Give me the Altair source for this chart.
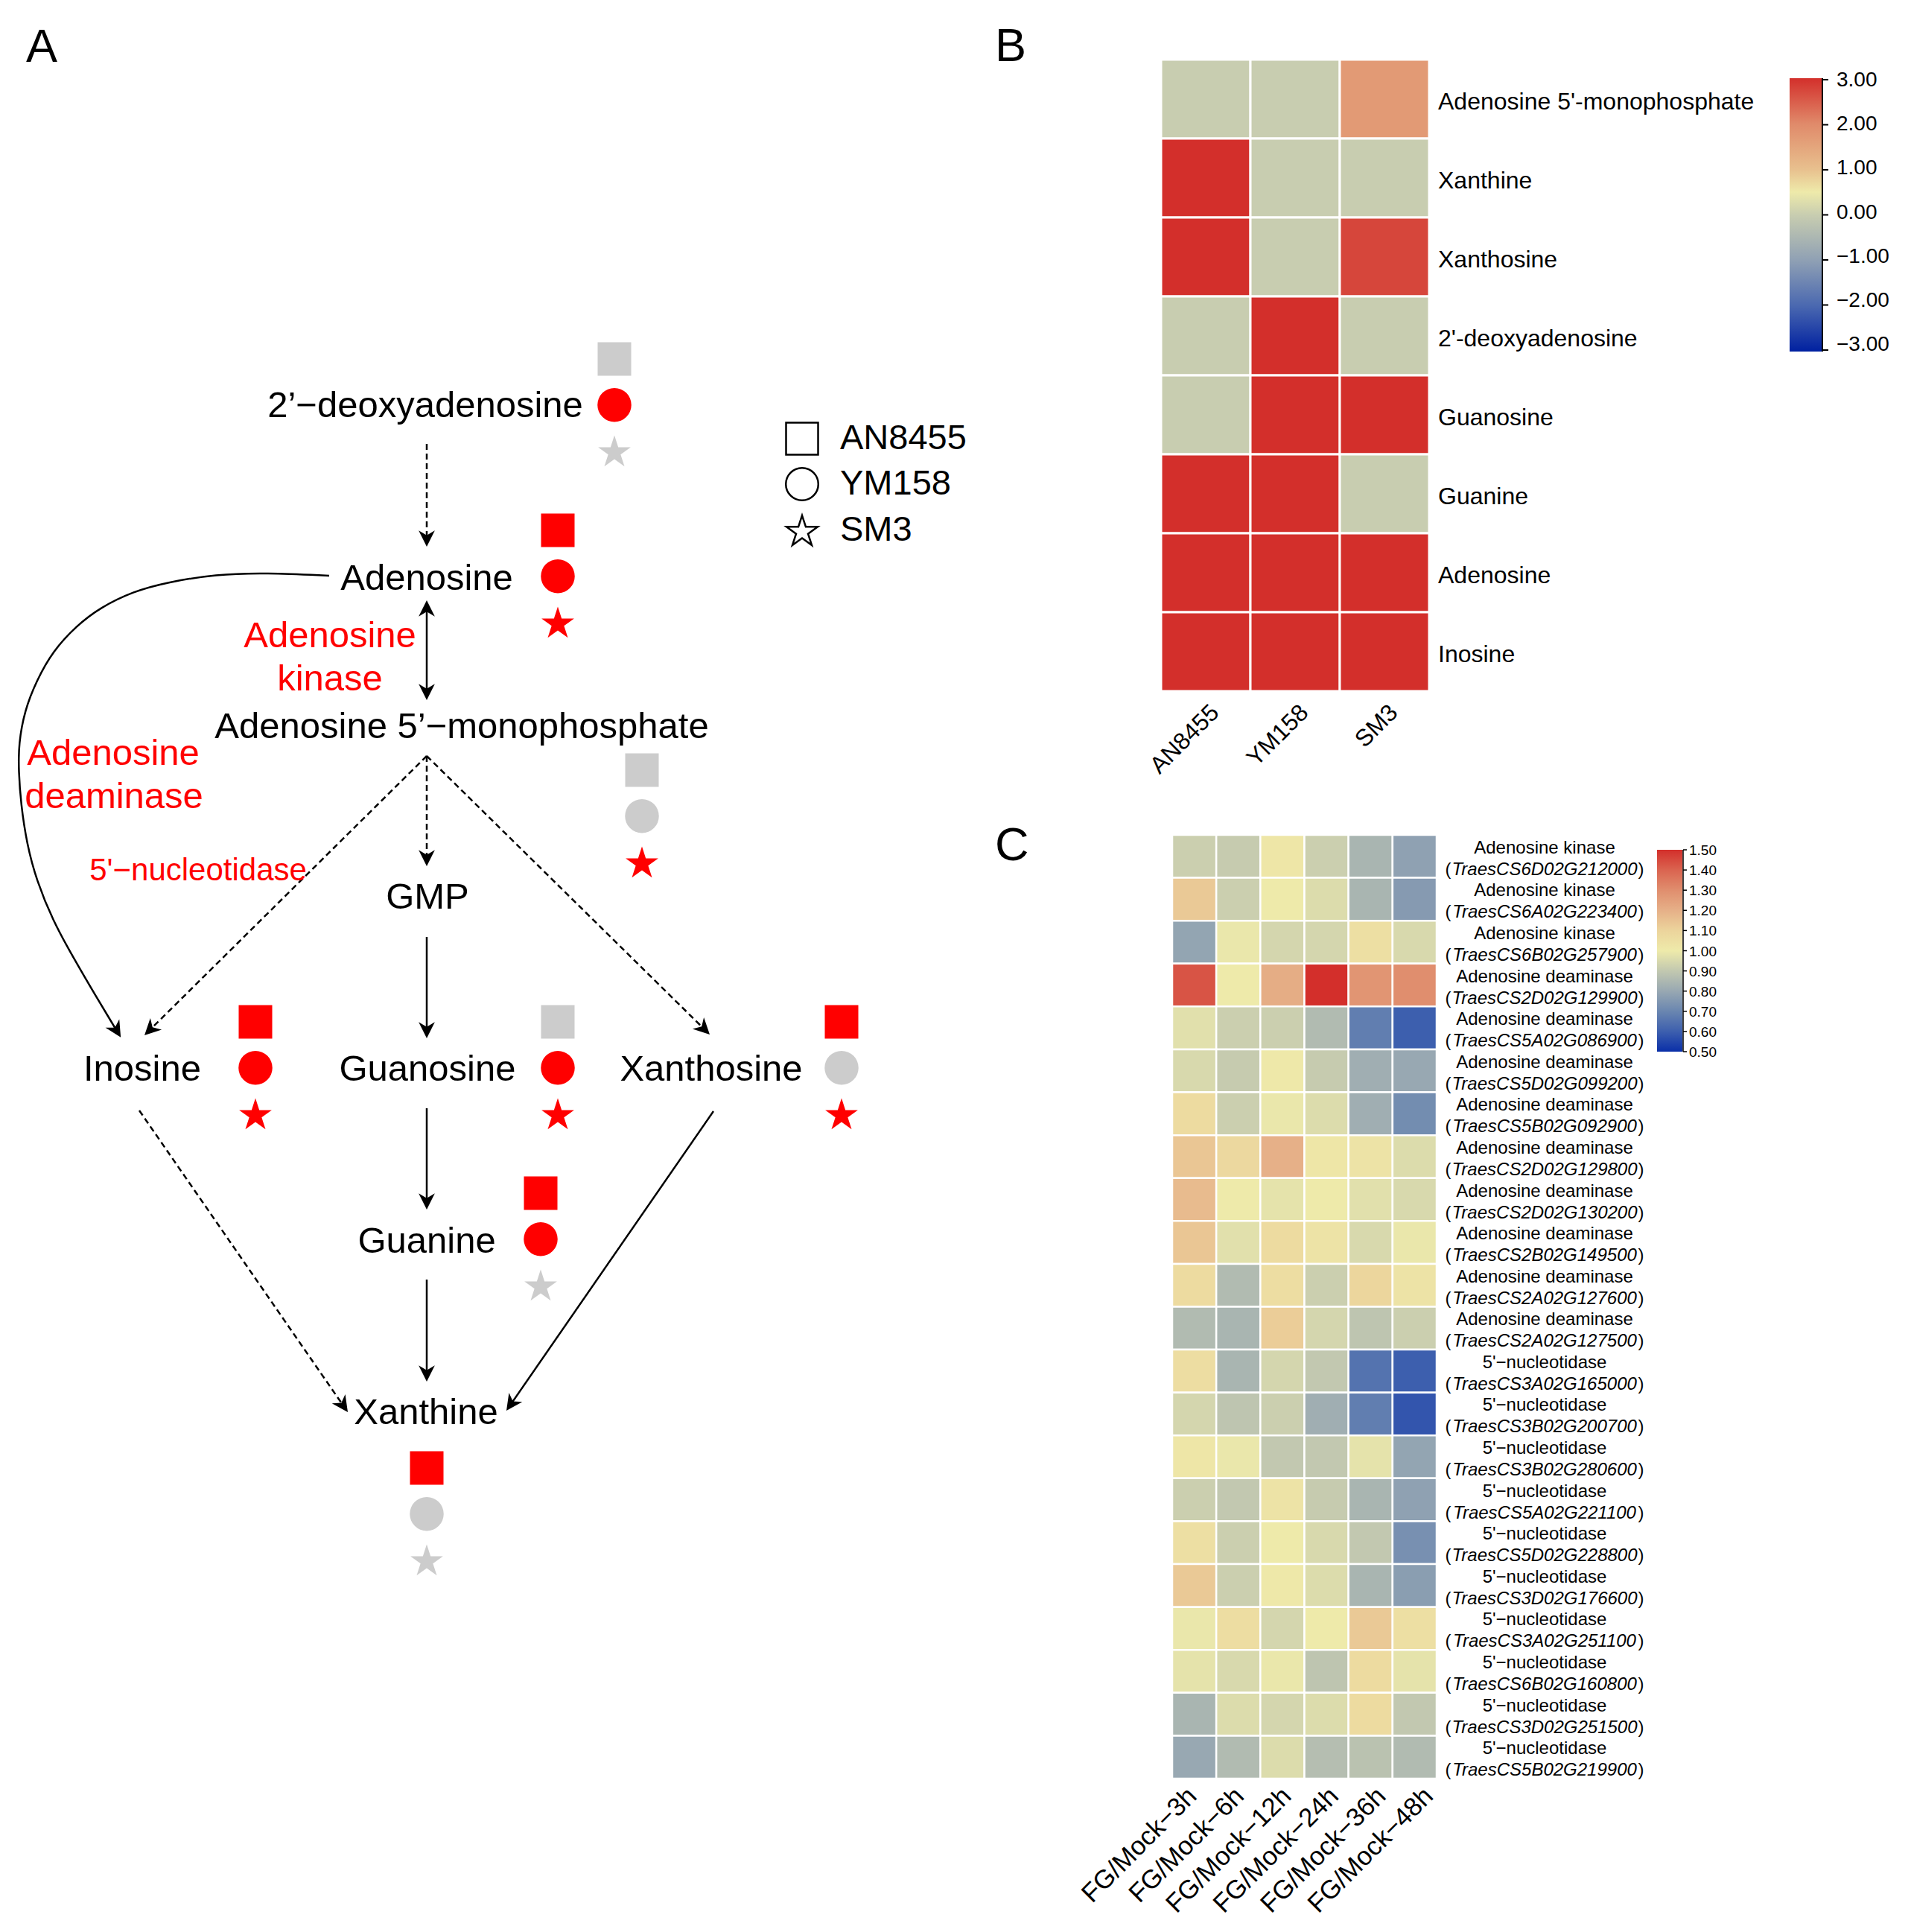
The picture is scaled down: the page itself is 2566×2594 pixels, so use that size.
import math
import altair as alt
import pandas as pd

FONT = "Liberation Sans"
W, H = 2550, 2572
M = 8  # page margin

# ---------------- Panel A : pathway diagram ----------------
node_names = ["2’−deoxyadenosine", "Adenosine", "Adenosine 5’−monophosphate", "GMP",
              "Inosine", "Guanosine", "Xanthosine", "Guanine", "Xanthine"]
node_x = [571, 573, 620, 574, 191, 574, 955, 573, 572]
node_y = [545, 777, 976, 1205, 1436, 1436, 1436, 1667, 1897]

enzyme_big = ["Adenosine", "kinase", "Adenosine", "deaminase"]
enzyme_big_x = [443, 443, 152, 153]
enzyme_big_y = [854, 912, 1012, 1070]
enzyme_small = ["5'−nucleotidase"]
enzyme_small_x = [266]
enzyme_small_y = [1169]

strains = ["AN8455", "YM158", "SM3"]
marker_nodes = ["2’−deoxyadenosine", "Adenosine", "Adenosine 5’−monophosphate", "Inosine",
                "Guanosine", "Xanthosine", "Guanine", "Xanthine"]
marker_x = [825, 749, 862, 343, 749, 1130, 726, 573]
marker_y = [482, 712, 1034, 1372, 1372, 1372, 1602, 1971]
status_AN8455 = ["ns", "up", "ns", "up", "ns", "up", "up", "up"]
status_YM158 = ["up", "up", "ns", "up", "up", "ns", "up", "ns"]
status_SM3 = ["ns", "up", "up", "up", "up", "up", "ns", "ns"]

legend_x = [1077, 1077, 1077]
legend_y = [589, 650, 712]
legend_text_x = 1128

arrow_x1 = [573, 573, 573, 573, 573, 573, 573, 573, 187, 958]
arrow_y1 = [596, 806, 1015, 1015, 1015, 1258, 1488, 1718, 1491, 1492]
arrow_x2 = [573, 573, 573, 194, 953, 573, 573, 573, 467, 680]
arrow_y2 = [734, 940, 1163, 1390, 1389, 1394, 1624, 1855, 1896, 1894]
arrow_style = ["dashed", "solid", "dashed", "dashed", "dashed", "solid", "solid", "solid", "dashed", "solid"]
arrow_heads = ["end", "both", "end", "end", "end", "end", "end", "end", "end", "end"]

curve_x = [442, 357, 290, 223, 179, 134, 103, 71, 49, 33, 25, 25, 28, 36, 49, 71, 98, 129, 158]
curve_y = [773, 769, 771, 782, 794, 816, 840, 874, 914, 954, 999, 1035, 1079, 1133, 1182, 1236, 1285, 1338, 1386]

# ---------------- Panel B : metabolite heatmap ----------------
b_rows = ["Adenosine 5'-monophosphate", "Xanthine", "Xanthosine", "2'-deoxyadenosine",
          "Guanosine", "Guanine", "Adenosine", "Inosine"]
b_cols = ["AN8455", "YM158", "SM3"]
b_AN8455 = [0, 3, 3, 0, 0, 3, 3, 3]
b_YM158 = [0, 0, 0, 3, 3, 3, 3, 3]
b_SM3 = [1.7, 0, 2.75, 0, 3, 0, 3, 3]
b_ticks = [3, 2, 1, 0, -1, -2, -3]
B_STOPS = [-3, -2, -1, 0, 0.5, 1, 2, 3]
B_COLORS = ["#0020a0", "#4a68b0", "#8fa0b4", "#c8cdb0", "#eeeaaa", "#e8c08e", "#e08a6a", "#d32f2b"]

# ---------------- Panel C : gene expression heatmap ----------------
c_cols = ["FG/Mock−3h", "FG/Mock−6h", "FG/Mock−12h", "FG/Mock−24h", "FG/Mock−36h", "FG/Mock−48h"]
c_enzyme = (["Adenosine kinase"] * 3 + ["Adenosine deaminase"] * 9 + ["5'−nucleotidase"] * 10)
c_gene = ["TraesCS6D02G212000", "TraesCS6A02G223400", "TraesCS6B02G257900", "TraesCS2D02G129900",
          "TraesCS5A02G086900", "TraesCS5D02G099200", "TraesCS5B02G092900", "TraesCS2D02G129800",
          "TraesCS2D02G130200", "TraesCS2B02G149500", "TraesCS2A02G127600", "TraesCS2A02G127500",
          "TraesCS3A02G165000", "TraesCS3B02G200700", "TraesCS3B02G280600", "TraesCS5A02G221100",
          "TraesCS5D02G228800", "TraesCS3D02G176600", "TraesCS3A02G251100", "TraesCS6B02G160800",
          "TraesCS3D02G251500", "TraesCS5B02G219900"]
c_values = [
    [0.92, 0.91, 1.02, 0.92, 0.84, 0.78],
    [1.13, 0.92, 1.00, 0.96, 0.84, 0.76],
    [0.79, 0.99, 0.94, 0.94, 1.05, 0.95],
    [1.43, 1.00, 1.21, 1.50, 1.28, 1.30],
    [0.97, 0.92, 0.92, 0.86, 0.68, 0.60],
    [0.95, 0.91, 1.01, 0.91, 0.82, 0.80],
    [1.07, 0.92, 0.99, 0.96, 0.82, 0.72],
    [1.14, 1.08, 1.20, 1.02, 1.03, 0.96],
    [1.17, 1.00, 0.98, 1.00, 0.97, 0.95],
    [1.14, 0.97, 1.07, 1.03, 0.95, 0.99],
    [1.07, 0.86, 1.06, 0.92, 1.09, 1.03],
    [0.86, 0.84, 1.12, 0.94, 0.89, 0.92],
    [1.06, 0.84, 0.94, 0.90, 0.65, 0.60],
    [0.94, 0.89, 0.92, 0.82, 0.68, 0.58],
    [1.02, 0.99, 0.90, 0.90, 0.98, 0.79],
    [0.92, 0.90, 1.03, 0.91, 0.84, 0.78],
    [1.05, 0.92, 1.00, 0.95, 0.90, 0.73],
    [1.13, 0.92, 1.01, 0.96, 0.84, 0.77],
    [0.99, 1.06, 0.94, 1.00, 1.13, 1.05],
    [0.98, 0.95, 0.99, 0.89, 1.07, 0.98],
    [0.84, 0.96, 0.94, 0.96, 1.07, 0.90],
    [0.80, 0.86, 0.96, 0.87, 0.88, 0.86],
]
c_ticks = [1.5, 1.4, 1.3, 1.2, 1.1, 1.0, 0.9, 0.8, 0.7, 0.6, 0.5]
C_STOPS = [0.5, 0.6, 0.7, 0.8, 0.9, 1.0, 1.1, 1.2, 1.3, 1.4, 1.5]
C_COLORS = ["#0a2fa8", "#3d5fae", "#6a86b0", "#98a8b2", "#c2c8b0", "#eeeaaa",
            "#ecd49c", "#e6b088", "#e08e6e", "#da6450", "#d32f2b"]

letters = ["A", "B", "C"]

# ---------------- helpers ----------------
def px(v):
    return v - M


def py(v):
    return v - M


PAGE_X = alt.Scale(domain=[0, 2566], range=[-M, 2566 - M], nice=False, zero=False)
PAGE_Y = alt.Scale(domain=[0, 2594], range=[-M, 2594 - M], nice=False, zero=False)


def X(f):
    return alt.X(f, type="quantitative", scale=PAGE_X, axis=None)


def Y(f):
    return alt.Y(f, type="quantitative", scale=PAGE_Y, axis=None)


ARROW = "M0,0L0.75,1.5L0,1.05L-0.75,1.5Z"
STAR = ("M0,-0.9045L0.2245,-0.2135L0.9511,-0.2135L0.3633,0.2135L0.5878,0.9045L0,0.4775"
        "L-0.5878,0.9045L-0.3633,0.2135L-0.9511,-0.2135L-0.2245,-0.2135Z")
SHAPES = alt.Scale(domain=strains, range=["square", "circle", STAR])
SIZES = alt.Scale(domain=strains, range=[2025, 2116, 2480])


def ang(ux, uy):
    return math.degrees(math.atan2(ux, -uy)) % 360


layers = []

# arrows (straight)
SHORT = 8
seg, heads = [], []
for x1, y1, x2, y2, st, hd in zip(arrow_x1, arrow_y1, arrow_x2, arrow_y2, arrow_style, arrow_heads):
    L = math.hypot(x2 - x1, y2 - y1)
    ux, uy = (x2 - x1) / L, (y2 - y1) / L
    a1x, a1y = x1, y1
    if hd == "both":
        a1x, a1y = x1 + SHORT * ux, y1 + SHORT * uy
        heads.append({"x": x1, "y": y1, "ang": ang(-ux, -uy)})
    heads.append({"x": x2, "y": y2, "ang": ang(ux, uy)})
    seg.append({"x1": a1x, "y1": a1y, "x2": x2 - SHORT * ux, "y2": y2 - SHORT * uy, "style": st})

# curve arrowhead
cdx, cdy = curve_x[-1] - curve_x[-2], curve_y[-1] - curve_y[-2]
cL = math.hypot(cdx, cdy)
heads.append({"x": curve_x[-1] + 8 * cdx / cL, "y": curve_y[-1] + 8 * cdy / cL, "ang": ang(cdx / cL, cdy / cL)})

layers.append(
    alt.Chart(pd.DataFrame(seg)).mark_rule(color="black", strokeWidth=2.5).encode(
        x=X("x1"), y=Y("y1"), x2=alt.X2("x2"), y2=alt.Y2("y2"),
        strokeDash=alt.StrokeDash("style:N", scale=alt.Scale(domain=["solid", "dashed"], range=[[1, 0], [8, 5]]), legend=None),
    )
)
layers.append(
    alt.Chart(pd.DataFrame({"x": curve_x, "y": curve_y, "i": list(range(len(curve_x)))}))
    .mark_line(color="black", strokeWidth=2.5, interpolate="basis")
    .encode(x=X("x"), y=Y("y"), order="i:Q")
)
layers.append(
    alt.Chart(pd.DataFrame(heads)).mark_point(shape=ARROW, filled=True, color="black", opacity=1, size=841, strokeWidth=0)
    .encode(x=X("x"), y=Y("y"), angle=alt.Angle("ang:Q", scale=None))
)

# node labels
layers.append(
    alt.Chart(pd.DataFrame({"name": node_names, "x": node_x, "y": node_y}))
    .mark_text(font=FONT, fontSize=49, color="black", align="center", baseline="middle")
    .encode(x=X("x"), y=Y("y"), text="name:N")
)
layers.append(
    alt.Chart(pd.DataFrame({"t": enzyme_big, "x": enzyme_big_x, "y": enzyme_big_y}))
    .mark_text(font=FONT, fontSize=49, color="#ff0000", align="center", baseline="middle")
    .encode(x=X("x"), y=Y("y"), text="t:N")
)
layers.append(
    alt.Chart(pd.DataFrame({"t": enzyme_small, "x": enzyme_small_x, "y": enzyme_small_y}))
    .mark_text(font=FONT, fontSize=42, color="#ff0000", align="center", baseline="middle")
    .encode(x=X("x"), y=Y("y"), text="t:N")
)

# status markers
SPACING = 61.7
mk = []
status = {"AN8455": status_AN8455, "YM158": status_YM158, "SM3": status_SM3}
for k, s in enumerate(strains):
    for i, n in enumerate(marker_nodes):
        mk.append({"node": n, "strain": s, "x": marker_x[i], "y": marker_y[i] + k * SPACING, "status": status[s][i]})
layers.append(
    alt.Chart(pd.DataFrame(mk)).mark_point(filled=True, opacity=1, strokeWidth=0).encode(
        x=X("x"), y=Y("y"),
        shape=alt.Shape("strain:N", scale=SHAPES, legend=None),
        size=alt.Size("strain:N", scale=SIZES, legend=None),
        color=alt.Color("status:N", scale=alt.Scale(domain=["up", "ns"], range=["#ff0000", "#cccccc"]), legend=None),
    )
)

# legend of shapes
leg = pd.DataFrame({"strain": strains, "x": legend_x, "y": legend_y})
layers.append(
    alt.Chart(leg).mark_point(filled=False, color="black", opacity=1, strokeWidth=2.5).encode(
        x=X("x"), y=Y("y"),
        shape=alt.Shape("strain:N", scale=SHAPES, legend=None),
        size=alt.Size("strain:N", scale=alt.Scale(domain=strains, range=[1850, 1950, 2300]), legend=None),
    )
)
layers.append(
    alt.Chart(leg).mark_text(font=FONT, fontSize=47, color="black", align="left", baseline="middle")
    .encode(x=alt.value(px(legend_text_x)), y=Y("y"), text="strain:N")
)

# panel letters
layers.append(
    alt.Chart(pd.DataFrame({"t": letters, "x": [35, 1336, 1336], "y": [83, 82, 1155]}))
    .mark_text(font=FONT, fontSize=63, color="black", align="left", baseline="alphabetic")
    .encode(x=X("x"), y=Y("y"), text="t:N")
)

# ---------------- Panel B layers ----------------
bvals = {"AN8455": b_AN8455, "YM158": b_YM158, "SM3": b_SM3}
bdf = pd.DataFrame([{"row": r, "col": c, "v": bvals[c][i]} for c in b_cols for i, r in enumerate(b_rows)])
BX0, BX1, BY0, BY1 = 1559, 1919, 80, 928
bx = alt.Scale(domain=b_cols, range=[px(BX0), px(BX1)], paddingInner=0, paddingOuter=0)
by = alt.Scale(domain=b_rows, range=[py(BY0), py(BY1)], paddingInner=0, paddingOuter=0)
layers.append(
    alt.Chart(bdf).mark_rect(stroke="white", strokeWidth=3).encode(
        x=alt.X("col:N", scale=bx, axis=None),
        y=alt.Y("row:N", scale=by, axis=None),
        color=alt.Color("v:Q", scale=alt.Scale(domain=B_STOPS, range=B_COLORS, interpolate="rgb"), legend=None),
    )
)
layers.append(
    alt.Chart(pd.DataFrame({"row": b_rows})).mark_text(font=FONT, fontSize=32, color="black", align="left", baseline="middle", dy=4)
    .encode(y=alt.Y("row:N", scale=by, axis=None), x=alt.value(px(1931)), text="row:N")
)
layers.append(
    alt.Chart(pd.DataFrame({"col": b_cols})).mark_text(font=FONT, fontSize=32, color="black", align="right", baseline="top", angle=315)
    .encode(x=alt.X("col:N", scale=alt.Scale(domain=b_cols, range=[px(BX0) + 2, px(BX1) + 2], paddingInner=0, paddingOuter=0), axis=None),
            y=alt.value(py(941)), text="col:N")
)

# colorbar B
bcy = alt.Scale(domain=[-3, 3], range=[py(472), py(105)], nice=False, zero=False)
btick_y = alt.Scale(domain=[-3, 3], range=[py(470), py(107)], nice=False, zero=False)
blab_y = alt.Scale(domain=[-3, 3], range=[py(462), py(107)], nice=False, zero=False)
b_grad = alt.LinearGradient(gradient="linear", x1=0, x2=0, y1=1, y2=0,
                            stops=[alt.GradientStop(offset=(s + 3) / 6, color=c) for s, c in zip(B_STOPS, B_COLORS)])
layers.append(
    alt.Chart(pd.DataFrame({"lo": [-3], "hi": [3]})).mark_rect(fill=b_grad).encode(
        y=alt.Y("hi:Q", scale=bcy, axis=None), y2="lo:Q", x=alt.value(px(2403)), x2=alt.value(px(2446)))
)
layers.append(
    alt.Chart(pd.DataFrame({"lo": [-3], "hi": [3]})).mark_rule(color="black", strokeWidth=2).encode(
        y=alt.Y("hi:Q", scale=bcy, axis=None), y2="lo:Q", x=alt.value(px(2447)))
)
btk = pd.DataFrame({"t": b_ticks, "lab": [f"{v:.2f}".replace("-", "−") for v in b_ticks]})
layers.append(
    alt.Chart(btk).mark_rule(color="black", strokeWidth=2).encode(
        y=alt.Y("t:Q", scale=btick_y, axis=None), x=alt.value(px(2447)), x2=alt.value(px(2455)))
)
layers.append(
    alt.Chart(btk).mark_text(font=FONT, fontSize=28, color="black", align="left", baseline="middle", dy=1).encode(
        y=alt.Y("t:Q", scale=blab_y, axis=None), x=alt.value(px(2466)), text="lab:N")
)

# ---------------- Panel C layers ----------------
cdf = pd.DataFrame([{"gene": g, "col": c, "v": c_values[i][j]} for i, g in enumerate(c_gene) for j, c in enumerate(c_cols)])
CX0, CX1, CY0, CY1 = 1574, 1929, 1121, 2388
cx = alt.Scale(domain=c_cols, range=[px(CX0), px(CX1)], paddingInner=0, paddingOuter=0)
cy = alt.Scale(domain=c_gene, range=[py(CY0), py(CY1)], paddingInner=0, paddingOuter=0)
layers.append(
    alt.Chart(cdf).mark_rect(stroke="white", strokeWidth=2.5).encode(
        x=alt.X("col:N", scale=cx, axis=None),
        y=alt.Y("gene:N", scale=cy, axis=None),
        color=alt.Color("v:Q", scale=alt.Scale(domain=C_STOPS, range=C_COLORS, interpolate="rgb"), legend=None),
    )
)
lab = pd.DataFrame({"gene": c_gene, "enz": c_enzyme})
LX = 2074
HALF = 125.5
layers.append(
    alt.Chart(lab).mark_text(font=FONT, fontSize=24, color="black", align="center", baseline="middle", dy=-11)
    .encode(y=alt.Y("gene:N", scale=cy, axis=None), x=alt.value(px(LX)), text="enz:N")
)
layers.append(
    alt.Chart(lab).mark_text(font=FONT, fontSize=24, fontStyle="italic", color="black", align="center", baseline="middle", dy=18)
    .encode(y=alt.Y("gene:N", scale=cy, axis=None), x=alt.value(px(LX)), text="gene:N")
)
layers.append(
    alt.Chart(lab).mark_text(font=FONT, fontSize=24, color="black", align="right", baseline="middle", dy=18, text="(")
    .encode(y=alt.Y("gene:N", scale=cy, axis=None), x=alt.value(px(LX - HALF)))
)
layers.append(
    alt.Chart(lab).mark_text(font=FONT, fontSize=24, color="black", align="left", baseline="middle", dy=18, text=")")
    .encode(y=alt.Y("gene:N", scale=cy, axis=None), x=alt.value(px(LX + HALF)))
)
# rotated time labels (spaced slightly wider than the columns, as in the original)
LAB0, LSTEP = 1589, 63.5
layers.append(
    alt.Chart(pd.DataFrame({"col": c_cols})).mark_text(font=FONT, fontSize=35, color="black", align="right", baseline="top", angle=315)
    .encode(x=alt.X("col:N", scale=alt.Scale(domain=c_cols, range=[px(LAB0 - LSTEP / 2), px(LAB0 - LSTEP / 2 + 6 * LSTEP)],
                                             paddingInner=0, paddingOuter=0), axis=None),
            y=alt.value(py(2394)), text="col:N")
)

# colorbar C
ccy = alt.Scale(domain=[0.5, 1.5], range=[py(1412), py(1141)], nice=False, zero=False)
c_grad = alt.LinearGradient(gradient="linear", x1=0, x2=0, y1=1, y2=0,
                            stops=[alt.GradientStop(offset=(s - 0.5) / 1.0, color=c) for s, c in zip(C_STOPS, C_COLORS)])
layers.append(
    alt.Chart(pd.DataFrame({"lo": [0.5], "hi": [1.5]})).mark_rect(fill=c_grad).encode(
        y=alt.Y("hi:Q", scale=ccy, axis=None), y2="lo:Q", x=alt.value(px(2225)), x2=alt.value(px(2259)))
)
layers.append(
    alt.Chart(pd.DataFrame({"lo": [0.5], "hi": [1.5]})).mark_rule(color="black", strokeWidth=1.5).encode(
        y=alt.Y("hi:Q", scale=ccy, axis=None), y2="lo:Q", x=alt.value(px(2260)))
)
ctk = pd.DataFrame({"t": c_ticks, "lab": [f"{v:.2f}" for v in c_ticks]})
layers.append(
    alt.Chart(ctk).mark_rule(color="black", strokeWidth=1.5).encode(
        y=alt.Y("t:Q", scale=ccy, axis=None), x=alt.value(px(2260)), x2=alt.value(px(2265)))
)
layers.append(
    alt.Chart(ctk).mark_text(font=FONT, fontSize=19, color="black", align="left", baseline="middle", dy=1).encode(
        y=alt.Y("t:Q", scale=ccy, axis=None), x=alt.value(px(2268)), text="lab:N")
)

chart = (
    alt.layer(*layers)
    .resolve_scale(x="independent", y="independent", color="independent", shape="independent",
                   size="independent", strokeDash="independent")
    .properties(width=W, height=H, padding=0, autosize=alt.AutoSizeParams(type="none"))
    .configure_view(strokeWidth=0)
)
chart.save("out.html", embed_options={"renderer": "svg", "actions": False})
